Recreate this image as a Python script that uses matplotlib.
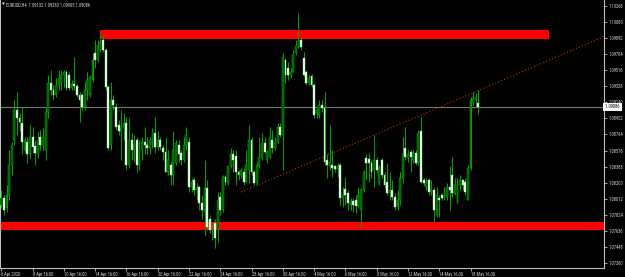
import matplotlib
matplotlib.use("Agg")
import matplotlib.pyplot as plt
import matplotlib.transforms as mtransforms
from matplotlib import font_manager as fm
from matplotlib.font_manager import FontProperties
from matplotlib.patches import Rectangle
import numpy as np

# ---------------- data (EURUSD, H4) ----------------
symbol = "EURUSD,H4"

opens = [1.0794, 1.0802, 1.0790, 1.0806, 1.0841, 1.0870, 1.0905, 1.0896, 1.0890, 1.0858,
         1.0868, 1.0853, 1.0874, 1.0863, 1.0853, 1.0873, 1.0864, 1.0858, 1.0903, 1.0937,
         1.0928, 1.0923, 1.0934, 1.0937, 1.0946, 1.0949, 1.0946, 1.0931, 1.0936, 1.0933,
         1.0923, 1.0923, 1.0909, 1.0928, 1.0923, 1.0940, 1.0972, 1.0964, 1.0975, 1.0987,
         1.0975, 1.0932, 1.0864, 1.0917, 1.0909, 1.0888, 1.0880, 1.0884, 1.0890, 1.0841,
         1.0870, 1.0858, 1.0870, 1.0841, 1.0858, 1.0868, 1.0864, 1.0861, 1.0867, 1.0878,
         1.0862, 1.0870, 1.0861, 1.0856, 1.0833, 1.0841, 1.0829, 1.0843, 1.0864, 1.0855,
         1.0846, 1.0864, 1.0868, 1.0815, 1.0823, 1.0811, 1.0815, 1.0796, 1.0786, 1.0814,
         1.0777, 1.0765, 1.0773, 1.0765, 1.0803, 1.0788, 1.0827, 1.0820, 1.0839, 1.0853,
         1.0851, 1.0832, 1.0829, 1.0833, 1.0821, 1.0835, 1.0870, 1.0832, 1.0820, 1.0839,
         1.0849, 1.0867, 1.0847, 1.0850, 1.0870, 1.0861, 1.0868, 1.0885, 1.0876, 1.0964,
         1.0954, 1.0946, 1.0950, 1.0972, 1.0980, 1.0987, 1.0966, 1.0949, 1.0937, 1.0945,
         1.0934, 1.0902, 1.0899, 1.0911, 1.0907, 1.0847, 1.0839, 1.0841, 1.0839, 1.0836,
         1.0841, 1.0802, 1.0813, 1.0808, 1.0794, 1.0799, 1.0800, 1.0793, 1.0788, 1.0811,
         1.0849, 1.0848, 1.0843, 1.0835, 1.0847, 1.0820, 1.0847, 1.0829, 1.0821, 1.0808,
         1.0811, 1.0803, 1.0792, 1.0800, 1.0826, 1.0861, 1.0849, 1.0856, 1.0847, 1.0855,
         1.0843, 1.0880, 1.0823, 1.0815, 1.0823, 1.0809, 1.0811, 1.0782, 1.0802, 1.0805,
         1.0802, 1.0803, 1.0815, 1.0829, 1.0808, 1.0796, 1.0817, 1.0823, 1.0821, 1.0800,
         1.0837, 1.0913, 1.0917, 1.09132]
highs = [1.0811, 1.0806, 1.0817, 1.0858, 1.0868, 1.0917, 1.0926, 1.0902, 1.0909, 1.0874,
         1.0873, 1.0888, 1.0885, 1.0870, 1.0880, 1.0882, 1.0884, 1.0909, 1.0946, 1.0952,
         1.0934, 1.0943, 1.0952, 1.0952, 1.0952, 1.0952, 1.0950, 1.0940, 1.0967, 1.0936,
         1.0926, 1.0925, 1.0938, 1.0949, 1.0946, 1.0972, 1.0987, 1.0987, 1.0995, 1.0993,
         1.0978, 1.0934, 1.0938, 1.0923, 1.0913, 1.0893, 1.0905, 1.0902, 1.0897, 1.0896,
         1.0878, 1.0876, 1.0874, 1.0870, 1.0874, 1.0885, 1.0873, 1.0874, 1.0884, 1.0897,
         1.0880, 1.0874, 1.0864, 1.0874, 1.0858, 1.0844, 1.0880, 1.0870, 1.0870, 1.0858,
         1.0874, 1.0885, 1.0873, 1.0826, 1.0827, 1.0820, 1.0817, 1.0806, 1.0847, 1.0823,
         1.0782, 1.0773, 1.0777, 1.0809, 1.0809, 1.0829, 1.0829, 1.0840, 1.0861, 1.0858,
         1.0858, 1.0835, 1.0837, 1.0837, 1.0858, 1.0888, 1.0873, 1.0835, 1.0844, 1.0874,
         1.0878, 1.0873, 1.0858, 1.0885, 1.0882, 1.0873, 1.0890, 1.0890, 1.0972, 1.0966,
         1.0961, 1.0954, 1.0975, 1.0987, 1.1019, 1.0989, 1.0973, 1.0952, 1.0946, 1.0947,
         1.0937, 1.0907, 1.0917, 1.0917, 1.0926, 1.0853, 1.0888, 1.0858, 1.0841, 1.0843,
         1.0843, 1.0815, 1.0827, 1.0811, 1.0802, 1.0802, 1.0805, 1.0815, 1.0814, 1.0835,
         1.0853, 1.0855, 1.0847, 1.0876, 1.0850, 1.0841, 1.0849, 1.0832, 1.0843, 1.0833,
         1.0823, 1.0808, 1.0811, 1.0833, 1.0874, 1.0885, 1.0858, 1.0858, 1.0858, 1.0858,
         1.0882, 1.0897, 1.0826, 1.0826, 1.0826, 1.0823, 1.0815, 1.0815, 1.0806, 1.0808,
         1.0815, 1.0820, 1.0839, 1.0850, 1.0826, 1.0826, 1.0829, 1.0823, 1.0826, 1.0841,
         1.0920, 1.0926, 1.0925, 1.09280]
lows = [1.0790, 1.0782, 1.0786, 1.0800, 1.0829, 1.0864, 1.0876, 1.0880, 1.0853, 1.0856,
        1.0843, 1.0849, 1.0855, 1.0841, 1.0849, 1.0858, 1.0858, 1.0847, 1.0896, 1.0923,
        1.0917, 1.0920, 1.0928, 1.0928, 1.0932, 1.0928, 1.0928, 1.0928, 1.0928, 1.0920,
        1.0891, 1.0905, 1.0905, 1.0917, 1.0920, 1.0938, 1.0954, 1.0961, 1.0973, 1.0973,
        1.0928, 1.0858, 1.0858, 1.0905, 1.0882, 1.0876, 1.0847, 1.0870, 1.0835, 1.0837,
        1.0847, 1.0844, 1.0833, 1.0835, 1.0847, 1.0853, 1.0853, 1.0853, 1.0861, 1.0855,
        1.0858, 1.0858, 1.0847, 1.0832, 1.0829, 1.0817, 1.0817, 1.0841, 1.0844, 1.0841,
        1.0844, 1.0858, 1.0809, 1.0809, 1.0806, 1.0800, 1.0788, 1.0777, 1.0757, 1.0765,
        1.0761, 1.0753, 1.0743, 1.0750, 1.0782, 1.0786, 1.0817, 1.0817, 1.0837, 1.0832,
        1.0817, 1.0823, 1.0826, 1.0817, 1.0820, 1.0820, 1.0829, 1.0817, 1.0817, 1.0837,
        1.0847, 1.0855, 1.0843, 1.0849, 1.0855, 1.0858, 1.0867, 1.0874, 1.0835, 1.0937,
        1.0940, 1.0943, 1.0949, 1.0970, 1.0978, 1.0975, 1.0945, 1.0934, 1.0934, 1.0932,
        1.0896, 1.0896, 1.0896, 1.0903, 1.0841, 1.0826, 1.0835, 1.0827, 1.0833, 1.0827,
        1.0794, 1.0792, 1.0794, 1.0788, 1.0788, 1.0786, 1.0784, 1.0792, 1.0767, 1.0809,
        1.0823, 1.0821, 1.0826, 1.0815, 1.0833, 1.0817, 1.0826, 1.0814, 1.0806, 1.0800,
        1.0800, 1.0788, 1.0788, 1.0794, 1.0820, 1.0847, 1.0844, 1.0832, 1.0843, 1.0841,
        1.0841, 1.0820, 1.0817, 1.0811, 1.0806, 1.0806, 1.0774, 1.0780, 1.0780, 1.0800,
        1.0800, 1.0800, 1.0788, 1.0803, 1.0806, 1.0796, 1.0811, 1.0811, 1.0806, 1.0800,
        1.0835, 1.0911, 1.0909, 1.09005]
closes = [1.0802, 1.0788, 1.0806, 1.0841, 1.0864, 1.0905, 1.0896, 1.0891, 1.0868, 1.0870,
          1.0853, 1.0873, 1.0862, 1.0855, 1.0870, 1.0864, 1.0873, 1.0903, 1.0937, 1.0928,
          1.0923, 1.0934, 1.0943, 1.0946, 1.0949, 1.0931, 1.0931, 1.0936, 1.0933, 1.0923,
          1.0917, 1.0909, 1.0928, 1.0940, 1.0944, 1.0964, 1.0964, 1.0981, 1.0985, 1.0975,
          1.0932, 1.0861, 1.0917, 1.0911, 1.0885, 1.0880, 1.0884, 1.0890, 1.0841, 1.0870,
          1.0858, 1.0864, 1.0841, 1.0858, 1.0868, 1.0864, 1.0861, 1.0870, 1.0880, 1.0862,
          1.0870, 1.0862, 1.0856, 1.0833, 1.0847, 1.0829, 1.0858, 1.0867, 1.0853, 1.0846,
          1.0864, 1.0876, 1.0815, 1.0821, 1.0811, 1.0814, 1.0796, 1.0788, 1.0814, 1.0768,
          1.0765, 1.0767, 1.0755, 1.0800, 1.0788, 1.0827, 1.0821, 1.0839, 1.0853, 1.0847,
          1.0832, 1.0829, 1.0835, 1.0821, 1.0841, 1.0870, 1.0832, 1.0820, 1.0841, 1.0850,
          1.0867, 1.0856, 1.0856, 1.0874, 1.0861, 1.0868, 1.0885, 1.0876, 1.0967, 1.0946,
          1.0946, 1.0950, 1.0970, 1.0980, 1.0987, 1.0979, 1.0946, 1.0937, 1.0943, 1.0934,
          1.0899, 1.0905, 1.0911, 1.0907, 1.0844, 1.0841, 1.0844, 1.0837, 1.0836, 1.0839,
          1.0802, 1.0806, 1.0806, 1.0796, 1.0799, 1.0794, 1.0793, 1.0806, 1.0811, 1.0833,
          1.0843, 1.0843, 1.0833, 1.0847, 1.0835, 1.0837, 1.0829, 1.0817, 1.0808, 1.0811,
          1.0803, 1.0792, 1.0800, 1.0826, 1.0853, 1.0850, 1.0853, 1.0850, 1.0855, 1.0843,
          1.0878, 1.0821, 1.0820, 1.0821, 1.0809, 1.0811, 1.0788, 1.0806, 1.0800, 1.0802,
          1.0809, 1.0815, 1.0811, 1.0808, 1.0817, 1.0820, 1.0823, 1.0817, 1.0809, 1.0837,
          1.0917, 1.0919, 1.0920, 1.09086]

x_tick_bars = [0, 12, 24, 36, 48, 60, 72, 84, 96, 108, 120, 132, 144, 156, 168, 180]
x_tick_labels = ["6 Apr 2020", "8 Apr 16:00", "10 Apr 16:00", "14 Apr 16:00", "16 Apr 16:00",
                 "20 Apr 16:00", "22 Apr 16:00", "24 Apr 16:00", "28 Apr 16:00", "30 Apr 16:00",
                 "4 May 16:00", "6 May 16:00", "8 May 16:00", "12 May 16:00", "14 May 16:00",
                 "18 May 16:00"]
y_tick_values = [1.07260, 1.07448, 1.07636, 1.07824, 1.08012, 1.08200, 1.08388, 1.08576,
                 1.08764, 1.08952, 1.09140, 1.09328, 1.09516, 1.09704, 1.09892, 1.10080,
                 1.10268]
y_tick_labels = ["1.07260", "1.07448", "1.07636", "1.07824", "1.08012", "1.08200", "1.08388",
                 "1.08576", "1.08764", "1.08952", "1.09140", "1.09328", "1.09516", "1.09704",
                 "1.09892", "1.10080", "1.10268"]

resistance_zone = [1.0988, 1.0999]
resistance_bars = [38, 210]
support_zone = [1.0765, 1.0774]
support_bars = [-10, 260]
trend_bars = [92, 180]
trend_prices = [1.0809, 1.0924]

# ---------------- fonts: prefer a narrow sans like the terminal's ----------------
def pick_narrow_font():
    prefs = ["Liberation Sans Narrow", "Arial Narrow", "Roboto Condensed",
             "Open Sans Condensed", "Noto Sans Condensed", "DejaVu Sans Condensed"]
    entries = fm.fontManager.ttflist

    def regular(e):
        w = e.weight
        return e.style == "normal" and (w in (400, "normal", "regular", "book"))

    for p in prefs:
        for e in entries:
            if e.name == p and regular(e):
                return e.fname
    for e in entries:
        if regular(e) and ("Narrow" in e.name or "Condensed" in e.name):
            return e.fname
    for e in entries:
        if regular(e) and e.stretch in ("condensed", "semi-condensed", "extra-condensed") \
                and "Sans" in e.name and "Mono" not in e.name:
            return e.fname
    return None


narrow_path = pick_narrow_font()
if narrow_path:
    BASE_FP = FontProperties(fname=narrow_path)
else:
    BASE_FP = FontProperties(family="DejaVu Sans")

TXT = "#d4d4d4"
AX = "#bdbdbd"

W, H = 625, 277
fig = plt.figure(figsize=(W / 100, H / 100), dpi=100, facecolor="black")

# size the text so a price label is ~14 px wide, like the reference
renderer = fig.canvas.get_renderer()
probe_fp = BASE_FP.copy()
probe_fp.set_size(10)
probe = fig.text(0, 0, "1.07260", fontproperties=probe_fp)
pw = probe.get_window_extent(renderer).width
probe.remove()
FS = min(3.9, 10 * 14.5 / pw)
FP = BASE_FP.copy()
FP.set_size(FS)

ax = fig.add_axes([0, 9 / H, 604 / W, 268 / H], facecolor="black")

o = np.array(opens); h = np.array(highs); l = np.array(lows); c = np.array(closes)
idx = np.arange(len(o))

ax.set_xlim(-0.5, 231.2)
ax.set_ylim(1.07201, 1.10338)

# zones
ax.add_patch(Rectangle((resistance_bars[0], resistance_zone[0]),
                       resistance_bars[1] - resistance_bars[0],
                       resistance_zone[1] - resistance_zone[0],
                       facecolor="#ff0000", edgecolor="none", zorder=1))
ax.add_patch(Rectangle((support_bars[0], support_zone[0]),
                       support_bars[1] - support_bars[0],
                       support_zone[1] - support_zone[0],
                       facecolor="#ff0000", edgecolor="none", zorder=1))

# trend line (ray)
slope = (trend_prices[1] - trend_prices[0]) / (trend_bars[1] - trend_bars[0])
x_end = 240
ax.plot([trend_bars[0], x_end],
        [trend_prices[0], trend_prices[0] + slope * (x_end - trend_bars[0])],
        color="#9a2a0a", lw=0.9, ls=(0, (1, 1.6)), zorder=2)

# bid line
bid = closes[-1]
ax.axhline(bid, color="#777777", lw=0.8, zorder=2)

# candles
ax.vlines(idx, l, h, color="#00a000", lw=0.75, zorder=3)
up = c >= o
bh_up = np.maximum(c - o, 0.00003)
bh_dn = np.maximum(o - c, 0.00003)
ax.bar(idx[up], bh_up[up], bottom=o[up], width=0.72, color="#005a00",
       edgecolor="#00b000", linewidth=0.35, zorder=4)
ax.bar(idx[~up], bh_dn[~up], bottom=c[~up], width=0.72, color="#f2fff2",
       edgecolor="#8fe08f", linewidth=0.3, zorder=4)

# axes styling
ax.spines["top"].set_visible(False)
for s in ["left", "right", "bottom"]:
    ax.spines[s].set_color(AX)
    ax.spines[s].set_linewidth(0.8)

ax.yaxis.tick_right()
ax.set_yticks(y_tick_values)
ax.set_yticklabels(y_tick_labels)
ax.tick_params(axis="y", colors=AX, length=2.5, width=0.6, pad=1.2, labelcolor=TXT)
ax.set_xticks(x_tick_bars)
ax.set_xticklabels(x_tick_labels)
ax.tick_params(axis="x", colors=AX, length=2.0, width=0.6, pad=0.8, labelcolor=TXT)
for t in ax.get_xticklabels():
    t.set_horizontalalignment("left")
    t.set_fontproperties(FP)
for t in ax.get_yticklabels():
    t.set_fontproperties(FP)

# current price tag
trans = mtransforms.blended_transform_factory(ax.transAxes, ax.transData)
ax.text(1.0, bid, f" {bid:.5f} ", transform=trans, ha="left", va="center",
        fontproperties=FP, color="black", clip_on=False, zorder=6,
        bbox=dict(facecolor="white", edgecolor="none", boxstyle="square,pad=0.25"))

# header
fig.text(1.5 / W, 1 - 5 / H, "\u25bc", ha="left", va="center",
         fontsize=FS * 0.8, family="DejaVu Sans", color=TXT)
fig.text(6 / W, 1 - 5 / H,
         f"{symbol}  {opens[-1]:.5f} {highs[-1]:.5f} {lows[-1]:.5f} {closes[-1]:.5f}",
         ha="left", va="center", fontproperties=FP, color=TXT)

fig.savefig("out.png", dpi=100, facecolor="black")
